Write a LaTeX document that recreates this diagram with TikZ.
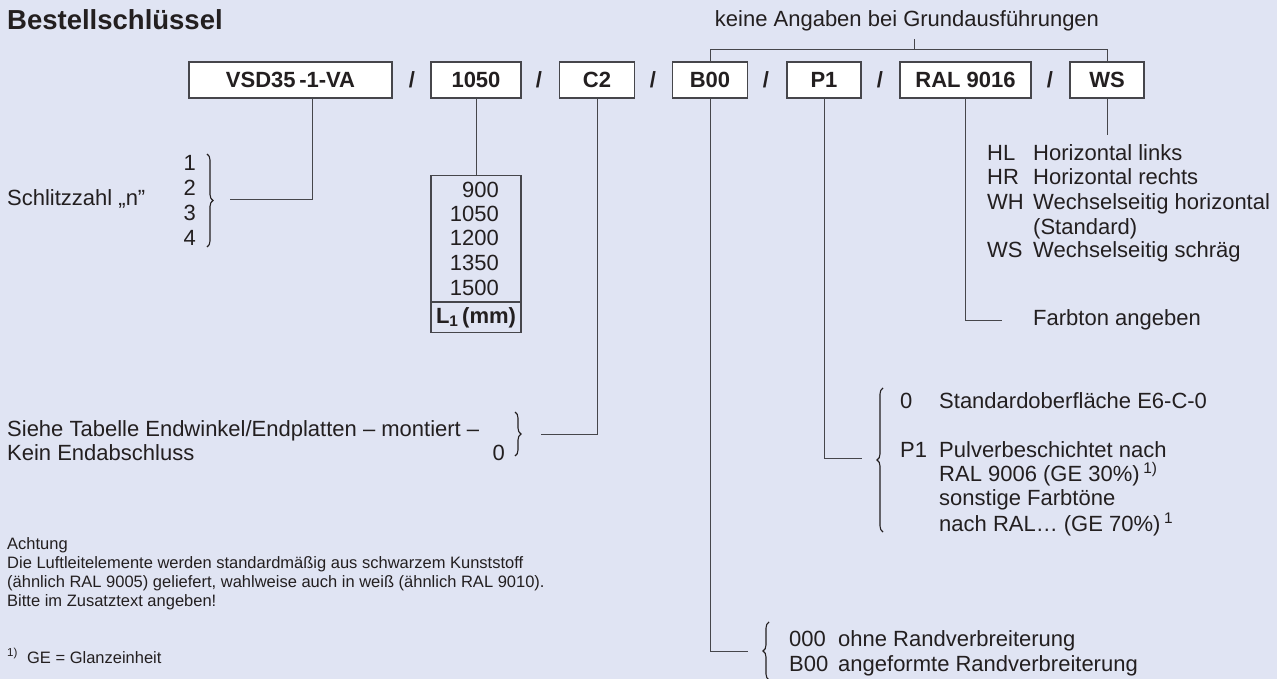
\documentclass[tikz,border=0pt]{standalone}
\usepackage{fontspec}
\setmainfont{Liberation Sans}
\usetikzlibrary{positioning,decorations.pathreplacing}
\definecolor{bgc}{RGB}{224,228,243}
\definecolor{ink}{RGB}{35,31,32}
\definecolor{wire}{RGB}{70,70,75}

\begin{document}
\begin{tikzpicture}[x=1pt, y=-1pt,
    txt/.style={font=\fontsize{22}{24}\selectfont, text=ink, inner sep=0pt},
    note/.style={font=\fontsize{16.5}{19}\selectfont, text=ink, inner sep=0pt},
    codebox/.style={draw=wire, line width=1.2pt, fill=white, minimum height=36pt,
        inner sep=0pt, text height=15.5pt, text depth=0pt,
        font=\bfseries\fontsize{22}{24}\selectfont, text=ink},
    slash/.style={font=\bfseries\fontsize{22}{24}\selectfont, text=ink, inner sep=0pt},
    conn/.style={draw=wire, line width=1pt},
    brc/.style={draw=ink, line width=1.1pt, decorate, decoration={brace, amplitude=6pt}}]
    % Background and frame
    \fill[bgc] (0,0) rectangle (1277,679);
    \useasboundingbox (0,0) rectangle (1277,679);

    % Title
    \node[txt, font=\bfseries\fontsize{27.5}{30}\selectfont, anchor=base west] (title) at (7,30) {Bestellschlüssel};
    \node[txt, anchor=base] (keine) at (907,27) {keine Angaben bei Grundausführungen};

    % Order code
    \node[codebox, minimum width=203pt] (b1) at (290.5,80) {VSD35\,-1-VA};
    \node[slash] at (412,80) {/};
    \node[codebox, minimum width=90pt] (b2) at (476,80) {1050};
    \node[slash] at (539,80) {/};
    \node[codebox, minimum width=75pt] (b3) at (597,80) {C2};
    \node[slash] at (653,80) {/};
    \node[codebox, minimum width=75pt] (b4) at (710,80) {B00};
    \node[slash] at (766,80) {/};
    \node[codebox, minimum width=74pt] (b5) at (824,80) {P1};
    \node[slash] at (880,80) {/};
    \node[codebox, minimum width=131pt] (b6) at (965.5,80) {RAL 9016};
    \node[slash] at (1050,80) {/};
    \node[codebox, minimum width=74pt] (b7) at (1107,80) {WS};

    % Bracket for the basic versions
    \coordinate (hub) at (914,50);
    \draw[conn] (b4.north) -- ++(0,-12) -| (b7.north);
    \draw[conn] (hub) -- ++(0,-11);

    % Slot count
    \node[txt, anchor=base west] (schlitz) at (7,206) {Schlitzzahl „n”};
    \node[txt, anchor=base east] (n1) at (196,171) {1};
    \node[txt, anchor=base east] (n2) at (196,196) {2};
    \node[txt, anchor=base east] (n3) at (196,221) {3};
    \node[txt, anchor=base east] (n4) at (196,245) {4};
    \draw[brc] (207,154) -- (207,247);
    \coordinate (c1) at (230,200);
    \draw[conn] ([xshift=21.5pt]b1.south) |- (c1);

    % Length table
    \node[draw=wire, line width=1.2pt, minimum width=90pt, minimum height=157pt,
        inner sep=0pt, anchor=north] (lentab) at (476,175) {};
    \draw[conn] (b2) -- (lentab);
    \node[txt, anchor=base east] at (499,198) {900};
    \node[txt, anchor=base east] at (499,222) {1050};
    \node[txt, anchor=base east] at (499,246) {1200};
    \node[txt, anchor=base east] at (499,270) {1350};
    \node[txt, anchor=base east] at (499,295) {1500};
    \draw[wire, line width=2.4pt] (431,302) -- (521,302);
    \node[txt, font=\bfseries\fontsize{22}{24}\selectfont, anchor=base] at (476,323) {L\textsubscript{1}\,(mm)};

    % End angles
    \node[txt, anchor=base west] (siehe) at (7,436) {Siehe Tabelle Endwinkel/Endplatten – montiert –};
    \node[txt, anchor=base west] (kein) at (7,460) {Kein Endabschluss};
    \node[txt, anchor=base east] (null) at (505,460) {0};
    \draw[brc] (515,412) -- (515,456);
    \coordinate (c3) at (541,434);
    \draw[conn] (b3.south) |- (c3);

    % Edge widening
    \coordinate (c4) at (748,651);
    \draw[conn] (b4.south) |- (c4);
    \draw[brc] (769,680) -- (769,622);
    \node[txt, anchor=base west] at (789,646) {000};
    \node[txt, anchor=base west] at (838,646) {ohne Randverbreiterung};
    \node[txt, anchor=base west] at (789,671) {B00};
    \node[txt, anchor=base west] at (838,671) {angeformte Randverbreiterung};

    % Surface
    \coordinate (c5) at (862,458);
    \draw[conn] (b5.south) |- (c5);
    \draw[brc] (883,532) -- (883,388);
    \node[txt, anchor=base west] at (900,408) {0};
    \node[txt, anchor=base west] at (939,408) {Standardoberfläche E6-C-0};
    \node[txt, anchor=base west] at (900,457) {P1};
    \node[txt, anchor=base west] at (939,457) {Pulverbeschichtet nach};
    \node[txt, anchor=base west] at (939,481) {RAL 9006 (GE 30\%)\,\textsuperscript{1)}};
    \node[txt, anchor=base west] at (939,505) {sonstige Farbtöne};
    \node[txt, anchor=base west] at (939,531) {nach RAL…\ (GE 70\%)\,\textsuperscript{1}};

    % Colour
    \coordinate (c6) at (1002,320);
    \draw[conn] (b6.south) |- (c6);
    \node[txt, anchor=base west] (farbton) at (1033,325) {Farbton angeben};

    % Air guide arrangement
    \coordinate (c7) at (1107,135);
    \draw[conn] (b7.south) -- (c7);
    \node[txt, anchor=base west] at (987,161) {HL};
    \node[txt, anchor=base west] at (1033,161) {Horizontal links};
    \node[txt, anchor=base west] at (987,185) {HR};
    \node[txt, anchor=base west] at (1033,185) {Horizontal rechts};
    \node[txt, anchor=base west] at (987,210) {WH};
    \node[txt, anchor=base west] at (1033,210) {Wechselseitig horizontal};
    \node[txt, anchor=base west] at (1033,234) {(Standard)};
    \node[txt, anchor=base west] at (987,258) {WS};
    \node[txt, anchor=base west] at (1033,258) {Wechselseitig schräg};

    % Notes
    \node[note, anchor=base west] at (7,549) {Achtung};
    \node[note, anchor=base west] at (7,568) {Die Luftleitelemente werden standardmäßig aus schwarzem Kunststoff};
    \node[note, anchor=base west] at (7,587) {(ähnlich RAL 9005) geliefert, wahlweise auch in weiß (ähnlich RAL 9010).};
    \node[note, anchor=base west] at (7,606) {Bitte im Zusatztext angeben!};
    \node[note, anchor=base west] at (7,663) {\textsuperscript{1)}\ \ GE = Glanzeinheit};
\end{tikzpicture}
\end{document}
